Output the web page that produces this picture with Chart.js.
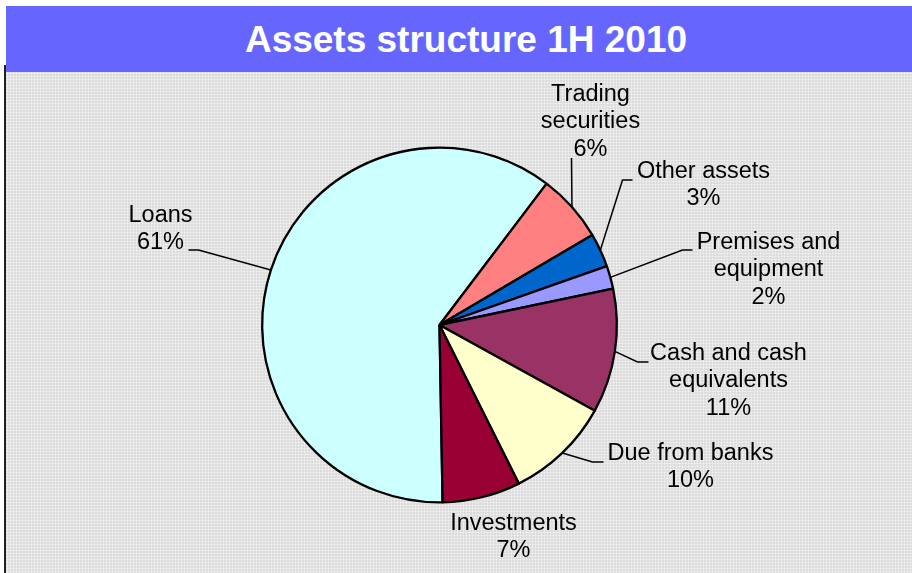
<!DOCTYPE html>
<html>
<head>
<meta charset="utf-8">
<script src="https://cdn.jsdelivr.net/npm/chart.js@4.4.1/dist/chart.umd.min.js"></script>
<style>
  html, body { margin: 0; padding: 0; width: 912px; height: 573px; overflow: hidden; background: #ffffff; }
  #titlebar {
    position: absolute; left: 6px; top: 6px; width: 906px; height: 66px;
    background: #6666FF; color: #ffffff;
    font: bold 37px "Liberation Sans", Arial, sans-serif;
    display: flex; align-items: center; justify-content: center;
    box-sizing: border-box; padding-left: 14px; padding-top: 2px;
  }
  #plotbg {
    position: absolute; left: 6px; top: 72px; width: 906px; height: 501px;
    background-color: #dcdcdc;
    background-image: radial-gradient(circle, #f2f2f2 0.8px, transparent 1.2px);
    background-size: 3px 3px;
  }
  #leftline {
    position: absolute; left: 4px; top: 65px; width: 2px; height: 508px; background: #222;
  }
  #chart { position: absolute; left: 0; top: 0; }
</style>
</head>
<body>
<div id="plotbg"></div>
<div id="leftline"></div>
<div id="titlebar">Assets structure 1H 2010</div>
<canvas id="chart" width="912" height="573"></canvas>
<script>
// ---- data ----
const categories = ['Loans', 'Trading securities', 'Other assets', 'Premises and equipment', 'Cash and cash equivalents', 'Due from banks', 'Investments'];
const labelLines = [['Loans'], ['Trading', 'securities'], ['Other assets'], ['Premises and', 'equipment'], ['Cash and cash', 'equivalents'], ['Due from banks'], ['Investments']];
const shares = [60.6, 6.2, 3.1, 2.1, 11.3, 9.6, 7.1];

// ---- styles / layout (not data) ----
const sliceColors = ['#CCFFFF', '#FF8080', '#0066CC', '#9999FF', '#993366', '#FFFFCC', '#990033'];
// label centre relative to pie centre, and leader path points (after arc edge) relative to pie centre
const labelLayout = [
  { c: [-279, -96], path: [[-241, -75], [-251, -75]] },
  { c: [151, -203], path: [[132, -167]] },
  { c: [264, -140], path: [[183, -145], [193, -145]] },
  { c: [329, -55], path: [[243, -75], [253, -75]] },
  { c: [289, 56], path: [[198, 37], [209, 37]] },
  { c: [251, 142], path: [[153, 137], [164, 137]] },
  { c: [74, 212], path: [] }
];
const LABEL_FONT = '23.5px "Liberation Sans", Arial, sans-serif';
const LINE_H = 27.5;

const labelPlugin = {
  id: 'excelLabels',
  afterDatasetsDraw(chart) {
    const ctx = chart.ctx;
    const meta = chart.getDatasetMeta(0);
    ctx.save();
    ctx.font = LABEL_FONT;
    ctx.fillStyle = '#000';
    ctx.strokeStyle = '#000';
    ctx.lineWidth = 1.5;
    ctx.textAlign = 'center';
    ctx.textBaseline = 'middle';
    meta.data.forEach((arc, i) => {
      const p = arc.getProps(['x', 'y', 'startAngle', 'endAngle', 'outerRadius'], true);
      const mid = (p.startAngle + p.endAngle) / 2;
      const lay = labelLayout[i];
      if (lay.path.length) {
        ctx.beginPath();
        ctx.moveTo(p.x + Math.cos(mid) * p.outerRadius, p.y + Math.sin(mid) * p.outerRadius);
        lay.path.forEach(pt => ctx.lineTo(p.x + pt[0], p.y + pt[1]));
        ctx.stroke();
      }
      const lines = labelLines[i].concat([Math.round(shares[i]) + '%']);
      const cx = p.x + lay.c[0];
      const cy = p.y + lay.c[1];
      const top = cy - (lines.length - 1) * LINE_H / 2;
      lines.forEach((t, k) => ctx.fillText(t, cx, top + k * LINE_H));
    });
    ctx.restore();
  }
};

new Chart(document.getElementById('chart'), {
  type: 'pie',
  data: {
    labels: categories,
    datasets: [{
      data: shares,
      backgroundColor: sliceColors,
      borderColor: '#000000',
      borderWidth: 2.3
    }]
  },
  options: {
    responsive: false,
    devicePixelRatio: 1,
    animation: false,
    rotation: 179,
    layout: { padding: { top: 146, bottom: 69, left: 261, right: 294 } },
    plugins: {
      legend: { display: false },
      tooltip: { enabled: false },
      title: { display: false }
    }
  },
  plugins: [labelPlugin]
});
</script>
</body>
</html>
